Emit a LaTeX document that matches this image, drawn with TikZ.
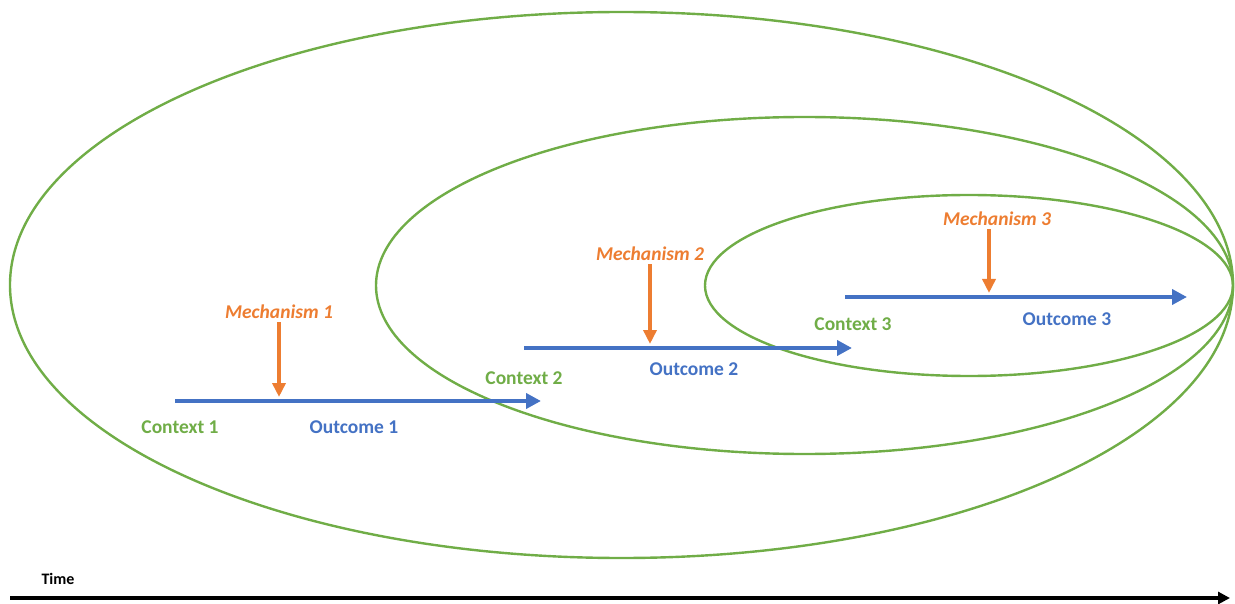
\documentclass[tikz,border=0pt]{standalone}
\usepackage{fontspec}
\setmainfont{Carlito}
\usetikzlibrary{arrows.meta}
\definecolor{ctxgreen}{HTML}{70AD47}
\definecolor{outblue}{HTML}{4472C4}
\definecolor{mechorange}{HTML}{ED7D31}
\begin{document}
\begin{tikzpicture}[x=1pt,y=1pt,
  ring/.style={draw=ctxgreen, line width=2.4pt},
  flow/.style={draw=outblue, line width=4pt, -{Triangle[length=15pt,width=15pt]}},
  mech/.style={draw=mechorange, line width=3.5pt, -{Triangle[length=14pt,width=13pt]}},
  ctxlabel/.style={text=ctxgreen, font=\fontsize{19.5}{22}\selectfont\bfseries},
  outlabel/.style={text=outblue, font=\fontsize{19.5}{22}\selectfont\bfseries},
  mechlabel/.style={text=mechorange, font=\fontsize{19.5}{22}\selectfont\bfseries\itshape},
  timeline/.style={draw=black, line width=4pt, -{Triangle[length=12pt,width=12pt]}}
]
\useasboundingbox (0,0) rectangle (1235,-604);

% nested contexts
\draw[ring] (621.5,-285) ellipse [x radius=611.5, y radius=273];
\draw[ring] (804.5,-285.5) ellipse [x radius=428.5, y radius=168.5];
\draw[ring] (969,-285.5) ellipse [x radius=264, y radius=90.5];

% outcome arrows
\coordinate (o1s) at (175,-401);
\coordinate (o1e) at (541,-401);
\coordinate (o2s) at (524,-348);
\coordinate (o2e) at (852,-348);
\coordinate (o3s) at (845,-297);
\coordinate (o3e) at (1187,-297);
\draw[flow] (o1s) -- (o1e);
\draw[flow] (o2s) -- (o2e);
\draw[flow] (o3s) -- (o3e);

% mechanisms
\node[mechlabel] (m1) at (279,-312) {Mechanism 1};
\node[mechlabel] (m2) at (650,-254) {Mechanism 2};
\node[mechlabel] (m3) at (997,-219) {Mechanism 3};
\coordinate (m1e) at (279,-397);
\coordinate (m2e) at (650,-344);
\coordinate (m3e) at (989,-293);
\draw[mech] (m1.south -| m1e) -- (m1e);
\draw[mech] (m2.south -| m2e) -- (m2e);
\draw[mech] (m3.south -| m3e) -- (m3e);

% labels
\node[ctxlabel] (c1) at (180,-427) {Context 1};
\node[outlabel] (r1) at (354,-427) {Outcome 1};
\node[ctxlabel] (c2) at (524,-378) {Context 2};
\node[outlabel] (r2) at (694,-369) {Outcome 2};
\node[ctxlabel] (c3) at (853,-324) {Context 3};
\node[outlabel] (r3) at (1067,-319) {Outcome 3};

% time axis
\node[font=\fontsize{16}{18}\selectfont\bfseries] (time) at (58,-579) {Time};
\coordinate (ts) at (10,-598);
\coordinate (te) at (1230,-598);
\draw[timeline] (ts) -- (te);
\end{tikzpicture}
\end{document}
